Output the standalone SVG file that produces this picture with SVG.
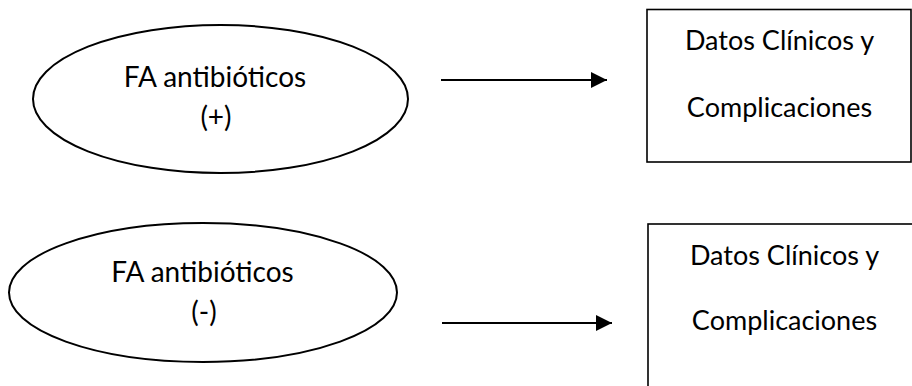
<svg xmlns="http://www.w3.org/2000/svg" width="912" height="386" viewBox="0 0 912 386">
<style>
.shape{fill:#fff;stroke:#000;stroke-width:2}
.box{fill:#fff;stroke:#000;stroke-width:1.6}
.t{font-family:Lato,"Open Sans","Liberation Sans",sans-serif;font-size:27px;fill:#000;text-anchor:middle}
.te{font-size:28px}
.c{stroke:#000;stroke-width:2.2;fill:none}
</style>
<defs>
<marker id="ah" markerUnits="userSpaceOnUse" markerWidth="18" markerHeight="18" refX="16" refY="8" orient="auto">
<path d="M0,0 L16,8 L0,16 Z" fill="#000"/>
</marker>
</defs>
<rect width="912" height="386" fill="#fff"/>
<g id="node-fa-pos">
<ellipse class="shape" cx="220.5" cy="99" rx="187.5" ry="74"/>
<text class="t te" x="215" y="87">FA antibióticos</text>
<text class="t te" x="216" y="127">(+)</text>
</g>
<g id="node-datos-1">
<rect class="box" x="647" y="9.5" width="264" height="152.5"/>
<text class="t" x="779.5" y="50">Datos Clínicos y</text>
<text class="t" x="779.5" y="117">Complicaciones</text>
</g>
<g id="node-fa-neg">
<ellipse class="shape" cx="203" cy="292.5" rx="194" ry="69.5"/>
<text class="t te" x="202.5" y="282">FA antibióticos</text>
<text class="t te" x="204" y="322">(-)</text>
</g>
<g id="node-datos-2">
<rect class="box" x="648" y="224" width="274" height="170"/>
<text class="t" x="784.5" y="265">Datos Clínicos y</text>
<text class="t" x="784.5" y="330">Complicaciones</text>
</g>
<g id="connectors">
<line class="c" x1="441" y1="80" x2="607" y2="80" marker-end="url(#ah)"/>
<line class="c" x1="442" y1="323" x2="612" y2="323" marker-end="url(#ah)"/>
</g>
</svg>
